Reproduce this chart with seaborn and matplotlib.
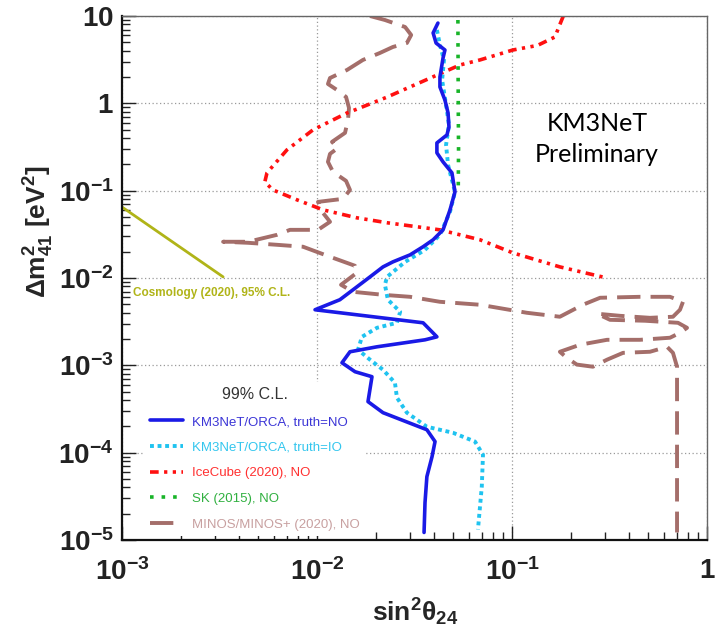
import numpy as np
import matplotlib
matplotlib.use("Agg")
import matplotlib.pyplot as plt
from matplotlib.ticker import LogLocator, NullFormatter
import seaborn as sns

# ---- exclusion contours (sin^2 theta_24 , Delta m^2_41 [eV^2]) ----
orca_no_s2 = [0.0417, 0.0394, 0.0408, 0.0453, 0.0443, 0.0427, 0.0427, 0.0453, 0.0470, 0.0475,
              0.0464, 0.0412, 0.0412, 0.0443, 0.0492, 0.0510, 0.0481, 0.0443, 0.0394, 0.0350,
              0.0300, 0.0245, 0.0218, 0.0187, 0.0153, 0.0131, 0.00977, 0.0350, 0.0412, 0.0358,
              0.0203, 0.01476, 0.01343, 0.01567, 0.01914, 0.01826, 0.0218, 0.0366, 0.0403, 0.0389,
              0.0366, 0.0358, 0.0354]
orca_no_dm2 = [8.3, 6.4, 4.9, 4.08, 3.31, 2.0, 1.54, 1.09, 0.776, 0.537,
               0.435, 0.352, 0.271, 0.2136, 0.16, 0.0969, 0.0603, 0.0356, 0.0274, 0.0228,
               0.0184, 0.0153, 0.0134, 0.0103, 0.00733, 0.00564, 0.00433, 0.00307, 0.00212, 0.00196,
               0.00163, 0.00143, 0.00107, 0.000845, 0.000741, 0.000384, 0.000287, 0.000183, 0.000134, 0.00009,
               5.31e-5, 2.68e-5, 1.22e-5]

orca_io_s2 = [0.0412, 0.0427, 0.0448, 0.0438, 0.0459, 0.0475, 0.0459, 0.0470, 0.0510, 0.0481,
              0.0427, 0.0358, 0.0283, 0.02286, 0.0223, 0.0231, 0.0267, 0.0257, 0.0203, 0.0170,
              0.01623, 0.0187, 0.0218, 0.0251, 0.0257, 0.0289, 0.0366, 0.0498, 0.0646, 0.0710,
              0.0700, 0.0669]
orca_io_dm2 = [6.92, 4.66, 3.14, 1.85, 0.96, 0.566, 0.334, 0.197, 0.0969, 0.0572,
               0.0312, 0.021, 0.0153, 0.0103, 0.00835, 0.00564, 0.0041, 0.00307, 0.00269, 0.00212,
               0.00151, 0.00116, 0.00089, 0.000632, 0.000426, 0.000287, 0.000198, 0.000169, 0.000134, 9.48e-5,
               4.09e-5, 1.32e-5]

icecube_s2 = [0.183, 0.176, 0.166, 0.135, 0.101, 0.0685, 0.0541, 0.0276, 0.0229, 0.0166,
              0.01426, 0.00954, 0.00701, 0.00554, 0.0054, 0.00594, 0.0079, 0.01074, 0.016, 0.0229,
              0.0427, 0.0685, 0.101, 0.176, 0.307]
icecube_dm2 = [9.9, 8.0, 5.75, 4.6, 4.08, 3.14, 2.75, 1.42, 1.18, 0.886,
               0.776, 0.497, 0.293, 0.16, 0.126, 0.102, 0.0785, 0.0603, 0.0489, 0.0429,
               0.0356, 0.0274, 0.0194, 0.0134, 0.01]

sk_s2 = [0.0528, 0.0530, 0.0532, 0.0530]
sk_dm2 = [9.0, 1.0, 0.3, 0.1]

minos_s2 = [0.0187, 0.0223, 0.0283, 0.0304, 0.0289, 0.0245, 0.0210, 0.0172, 0.01425, 0.01166,
            0.01138, 0.01266, 0.01409, 0.01459, 0.01442, 0.01392, 0.01194, 0.01281, 0.01166, 0.01138,
            0.01208, 0.01409, 0.01476, 0.01359, 0.01012, 0.01073, 0.01166, 0.01012, 0.00727, 0.00623,
            0.00443, 0.0033, 0.00443, 0.00623, 0.00848, 0.01166, 0.01566, 0.01603, 0.01328, 0.0153,
            0.0218, 0.0300, 0.0427, 0.0685, 0.119, 0.176, 0.231, 0.283, 0.453, 0.646,
            0.753, 0.727, 0.669, 0.510, 0.358, 0.273, 0.318, 0.481, 0.710, 0.790,
            0.727, 0.646, 0.453, 0.307, 0.223, 0.176, 0.191, 0.215, 0.260, 0.307,
            0.371, 0.510, 0.624, 0.669, 0.702, 0.702]
minos_dm2 = [10.0, 9.0, 7.48, 6.06, 4.91, 4.42, 3.77, 3.14, 2.41, 1.95,
             1.667, 1.423, 1.184, 0.886, 0.646, 0.459, 0.362, 0.309, 0.264, 0.214,
             0.164, 0.1295, 0.102, 0.0806, 0.0744, 0.0557, 0.0440, 0.0356, 0.0356, 0.0312,
             0.0260, 0.0260, 0.0253, 0.0240, 0.0228, 0.0175, 0.0138, 0.0115, 0.00836, 0.00695,
             0.00642, 0.00609, 0.00534, 0.00494, 0.0040, 0.0036, 0.00494, 0.00594, 0.00609, 0.00609,
             0.00534, 0.00433, 0.0036, 0.0035, 0.00369, 0.0039, 0.00332, 0.00324, 0.00307, 0.00269,
             0.00236, 0.00207, 0.00196, 0.00196, 0.00172, 0.00143, 0.00122, 0.00102, 0.000964, 0.00116,
             0.00139, 0.00143, 0.00163, 0.00139, 0.000964, 1.22e-5]

cosmo_s2 = [0.001, 0.0033]
cosmo_dm2 = [0.065, 0.0103]

labels = ["KM3NeT/ORCA, truth=NO", "KM3NeT/ORCA, truth=IO", "IceCube (2020), NO",
          "SK (2015), NO", "MINOS/MINOS+ (2020), NO"]
line_colors = ["#1a1ae6", "#1fc3f0", "#ff1010", "#18b428", "#a46e6a"]
text_colors = ["#3b35d6", "#33c6ee", "#ff3030", "#30b040", "#c8a0a0"]
olive = "#b0b418"

xticks = [1e-3, 1e-2, 1e-1, 1]
xticklabels = [r"$\mathbf{10^{-3}}$", r"$\mathbf{10^{-2}}$", r"$\mathbf{10^{-1}}$", r"$\mathbf{1}$"]
yticks = [1e-5, 1e-4, 1e-3, 1e-2, 1e-1, 1, 10]
yticklabels = [r"$\mathbf{10^{-5}}$", r"$\mathbf{10^{-4}}$", r"$\mathbf{10^{-3}}$",
               r"$\mathbf{10^{-2}}$", r"$\mathbf{10^{-1}}$", r"$\mathbf{1}$", r"$\mathbf{10}$"]

sns.set_style("white")
plt.rcParams["font.family"] = ["Liberation Sans", "DejaVu Sans"]
plt.rcParams["mathtext.fontset"] = "custom"
plt.rcParams["mathtext.rm"] = "Liberation Sans"
plt.rcParams["mathtext.bf"] = "Liberation Sans:bold"
plt.rcParams["mathtext.it"] = "Liberation Sans:italic"
plt.rcParams["mathtext.sf"] = "Liberation Sans"

fig = plt.figure(figsize=(7.17, 6.27), dpi=100)
ax = fig.add_axes([122 / 717, 87 / 627, 585 / 717, 524 / 627])
ax.set_xscale("log")
ax.set_yscale("log")


def draw(x, y, **kw):
    sns.lineplot(x=x, y=y, sort=False, estimator=None, ax=ax, **kw)


draw(cosmo_s2, cosmo_dm2, color=olive, linewidth=2.0)
draw(minos_s2, minos_dm2, color=line_colors[4], linewidth=2.8,
     linestyle=(0, (6, 2.6)), label=labels[4])
draw(icecube_s2, icecube_dm2, color=line_colors[2], linewidth=2.6,
     linestyle=(0, (2.4, 1.5, 0.9, 1.5, 0.9, 1.5)), label=labels[2])
draw(sk_s2, sk_dm2, color=line_colors[3], linewidth=2.6,
     linestyle=(0, (1.0, 2.2)), label=labels[3])
draw(orca_io_s2, orca_io_dm2, color=line_colors[1], linewidth=2.8,
     linestyle=(0, (1.0, 0.95)), label=labels[1])
draw(orca_no_s2, orca_no_dm2, color=line_colors[0], linewidth=2.6, label=labels[0])

ax.set_xlim(1e-3, 1)
ax.set_ylim(1e-5, 10)

ax.set_xticks(xticks)
ax.set_xticklabels(xticklabels)
ax.set_yticks(yticks)
ax.set_yticklabels(yticklabels)
for axis in (ax.xaxis, ax.yaxis):
    axis.set_minor_locator(LogLocator(base=10, subs=np.arange(2, 10), numticks=20))
    axis.set_minor_formatter(NullFormatter())
ax.tick_params(which="both", direction="in", top=False, right=False,
               left=True, bottom=True, colors="#222222", width=1.0)
ax.tick_params(which="major", length=10, labelsize=20)
ax.tick_params(which="minor", length=6)
ax.tick_params(axis="y", which="major", pad=6)
ax.tick_params(axis="x", which="major", pad=13)

ax.grid(True, which="major", linestyle=(0, (1, 2)), color="#9a9a9a", linewidth=0.9)
ax.set_axisbelow(True)

for side in ("left", "bottom"):
    ax.spines[side].set_color("#111111")
    ax.spines[side].set_linewidth(1.6)
for side in ("top", "right"):
    ax.spines[side].set_color("#666666")
    ax.spines[side].set_linewidth(1.0)

ax.set_xlabel(r"$\mathbf{sin^2\theta_{24}}$", fontsize=19)
ax.set_ylabel(r"$\mathbf{\Delta m^2_{41}\ [eV^2]}$", fontsize=19)
ax.xaxis.set_label_coords(0.501, -0.108)
ax.yaxis.set_label_coords(-0.112, 0.588)

ax.text(0.00114, 0.00678, "Cosmology (2020), 95% C.L.", color=olive,
        fontsize=8.5, fontweight="bold", ha="left", va="center")

ax.text(0.812, 0.765, "KM3NeT\nPreliminary", transform=ax.transAxes,
        ha="center", va="center", fontsize=18, linespacing=1.45,
        family=["Lato", "DejaVu Sans"], color="black")

handles, hlabels = ax.get_legend_handles_labels()
order = [hlabels.index(l) for l in labels]
leg = ax.legend([handles[i] for i in order], [hlabels[i] for i in order],
                title="99% C.L.", loc="upper left", bbox_to_anchor=(0.028, 0.314),
                frameon=True, fancybox=False, edgecolor="none", facecolor="white",
                framealpha=1.0, fontsize=9.5, title_fontsize=11.5,
                handlelength=2.5, handletextpad=0.7, labelspacing=1.02, borderpad=0.4)
for t, c in zip(leg.get_texts(), text_colors):
    t.set_color(c)
leg.get_title().set_color("#333333")

fig.savefig("out.png", dpi=100)
